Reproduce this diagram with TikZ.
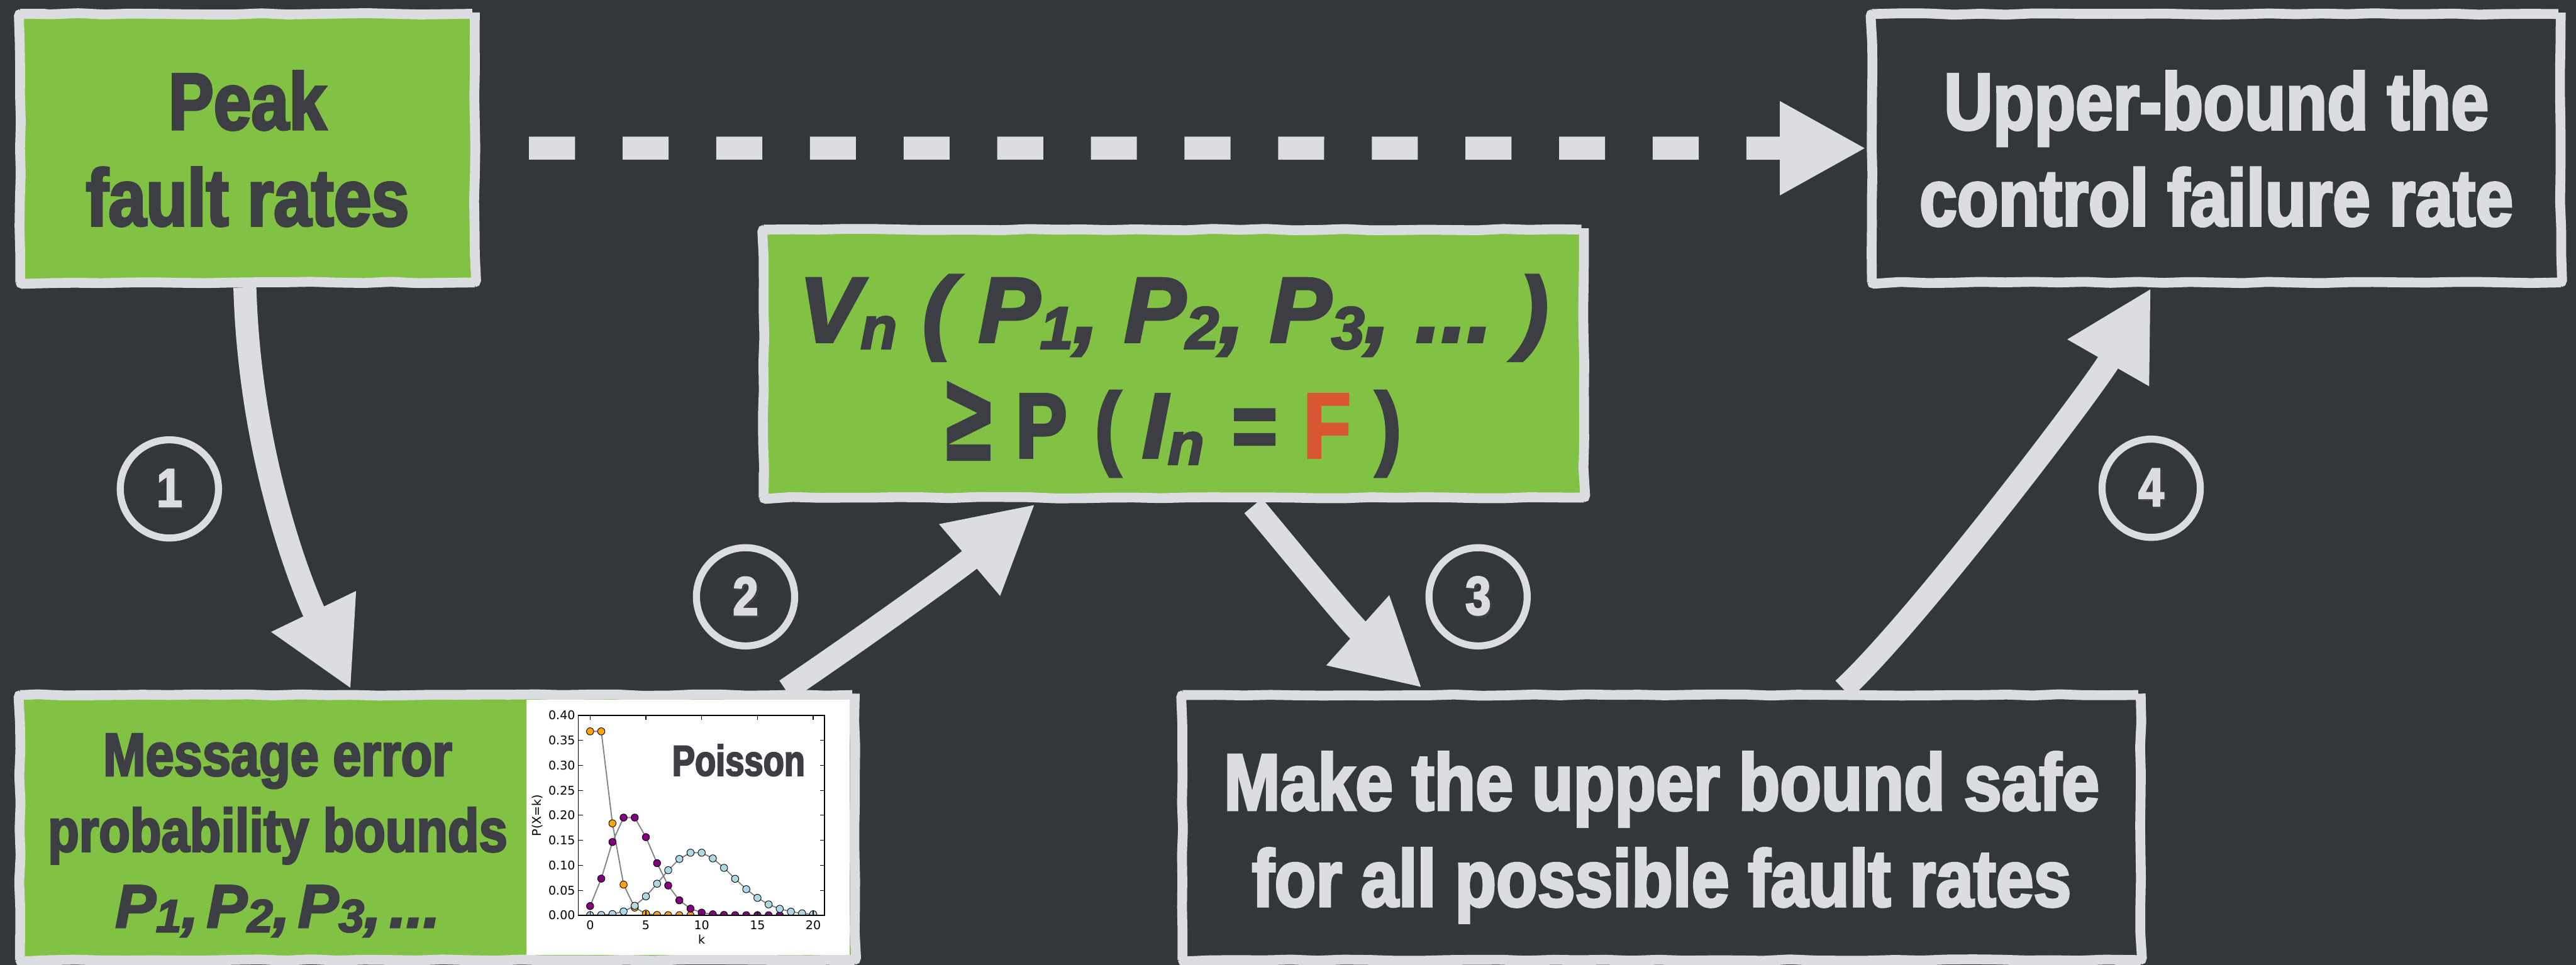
\documentclass[tikz,border=0pt]{standalone}
\usepackage{fontspec}
\usepackage{graphicx}
\usetikzlibrary{arrows.meta,calc,decorations.pathmorphing}
\setmainfont{Liberation Sans}
\newfontfamily\cond{Liberation Sans}[FakeStretch=0.84,FakeBold=3]
\newfontfamily\wide{Liberation Sans}[FakeBold=3]
\newfontfamily\condpoi{Liberation Sans}[FakeStretch=0.79,FakeBold=3]
\newfontfamily\plotfont{DejaVu Sans}

\definecolor{bgdark}{RGB}{51,55,59}
\definecolor{chalk}{RGB}{220,221,224}
\definecolor{leaf}{RGB}{129,194,69}
\definecolor{ink}{RGB}{60,62,67}
\definecolor{alert}{RGB}{217,86,53}
\definecolor{mplorange}{RGB}{255,165,0}
\definecolor{mplpurple}{RGB}{128,0,128}
\definecolor{mplblue}{RGB}{173,216,230}

% lowered, shrunken index (subscript-like)
\newcommand\lowidx[2][0.65]{\raisebox{-0.075em}{\scalebox{#1}{#2}}}
% digit with a small dark drop shadow
\newcommand\shnum[1]{\makebox[0pt][l]{\hspace{1.1pt}\raisebox{-1.1pt}{\textcolor{black!75}{#1}}}#1}

\begin{document}
\pgfmathsetseed{12}
\begin{tikzpicture}[x=1pt,y=-1pt,
  wobble/.style={decorate,decoration={random steps,segment length=16pt,amplitude=0.45pt},rounded corners=1.5pt},
  panel/.style={rectangle, draw=chalk, line width=6pt, outer sep=0pt, inner sep=0pt, wobble},
  greenpanel/.style={panel, fill=leaf, text=ink},
  darkpanel/.style={panel, fill=bgdark, text=chalk},
  bigtext/.style={font=\cond\bfseries\fontsize{49}{58.6}\selectfont, align=center},
  stepnum/.style={circle, draw=chalk, line width=4.3pt, minimum size=59.8pt, inner sep=0pt, outer sep=0pt,
    text=chalk, font=\cond\bfseries\fontsize{33}{33}\selectfont},
  flow/.style={draw=chalk, line width=14pt, -{Triangle[length=52.6pt,width=53.3pt]}},
  plotline/.style={draw={rgb,255:red,128;green,128;blue,128}, line width=0.7pt},
  tick/.style={draw=black, line width=0.45pt},
  ticklabel/.style={inner sep=0pt, font=\plotfont\fontsize{7.3}{8}\selectfont}
]
% canvas
\fill[bgdark] (0,0) rectangle (1568,587.5);
\useasboundingbox (0,0) rectangle (1568,587.5);

% panels
\node[greenpanel, bigtext, minimum width=276.7pt, minimum height=163.6pt] (peak) at (150.65,90.2)
  {\rule{0pt}{36.2pt}Peak\\fault rates};
\node[darkpanel, bigtext, minimum width=419.3pt, minimum height=163.5pt] (upper) at (1349.05,90.25)
  {\rule{0pt}{36.2pt}Upper-bound the\\control failure rate};
\node[greenpanel, align=center, font=\cond\bfseries\fontsize{56}{70.5}\selectfont,
      minimum width=499.3pt, minimum height=163.2pt] (vbound) at (714.45,221.4)
  {\rule{0pt}{55.5pt}{\wide\bfseries\itshape V\lowidx{n}\hspace{15.5pt}(\hspace{15.5pt}P\lowidx{1},\hspace{15.5pt}P\lowidx{2},\hspace{15.5pt}P\lowidx{3},\hspace{15.5pt}...\hspace{15.5pt})}\\
   \raisebox{-1pt}{\scalebox{1.05}[1.3]{≥}}\hspace{15pt}P\hspace{17pt}(\hspace{13pt}{\wide\bfseries\itshape I\lowidx{n}}\hspace{17pt}=\hspace{16pt}\textcolor{alert}{F}\hspace{15pt})};
\node[greenpanel, minimum width=508.2pt, minimum height=161.4pt] (msg) at (266.2,503.9) {};
\node[darkpanel, bigtext, minimum width=583.2pt, minimum height=161.4pt] (safe) at (1011.4,503.9)
  {\rule{0pt}{47.5pt}Make the upper bound safe\\for all possible fault rates};

% text of the message-error panel
\node[font=\cond\bfseries\fontsize{37}{46.2}\selectfont, text=ink, align=center, inner sep=0pt] (msgtext) at (169,508.5)
  {\rule{0pt}{27pt}Message error\\probability bounds\\{\wide\bfseries\itshape P\lowidx[0.76]{1},\hspace{5pt}P\lowidx[0.76]{2},\hspace{5pt}P\lowidx[0.76]{3},\hspace{5pt}...}\rule[-7pt]{0pt}{7pt}};

% white plot area inside the message-error panel
\fill[white] ($(msg.north west)+(308.3,3)$) rectangle ($(msg.south east)+(-3,-3)$);

% Poisson pmf plot
\begin{scope}[shift={(359.2pt,-557.3pt)}, x=6.79pt, y=304.3pt]
  \begin{scope}
    \clip (-1.046,0) rectangle (21,0.4);
    \draw[plotline] plot[mark=*, mark size=2.2pt, mark options={fill=mplorange, draw=black, line width=0.35pt}]
      coordinates {(0,0.3679) (1,0.3679) (2,0.1839) (3,0.0613) (4,0.0153) (5,0.0031) (6,0.0005) (7,0.0001) (8,0) (9,0)};
    \draw[plotline] plot[mark=*, mark size=2.2pt, mark options={fill=mplpurple, draw=black, line width=0.35pt}]
      coordinates {(0,0.0183) (1,0.0733) (2,0.1465) (3,0.1954) (4,0.1954) (5,0.1563) (6,0.1042) (7,0.0595)
                   (8,0.0298) (9,0.0132) (10,0.0053) (11,0.0019) (12,0.0006) (13,0.0002) (14,0.0001) (15,0) (16,0) (17,0)};
    \draw[plotline] plot[mark=*, mark size=2.2pt, mark options={fill=mplblue, draw=black, line width=0.35pt}]
      coordinates {(0,0.00005) (1,0.0005) (2,0.0023) (3,0.0076) (4,0.0189) (5,0.0378) (6,0.0631) (7,0.0901)
                   (8,0.1126) (9,0.1251) (10,0.1251) (11,0.1137) (12,0.0948) (13,0.0729) (14,0.0521) (15,0.0347)
                   (16,0.0217) (17,0.0128) (18,0.0071) (19,0.0037) (20,0.0019)};
  \end{scope}
  % frame and ticks
  \draw[black, line width=0.55pt] (-1.046,0) rectangle (21,0.4);
  \foreach \v/\lbl [count=\i] in {0/0.00,0.05/0.05,0.1/0.10,0.15/0.15,0.2/0.20,0.25/0.25,0.3/0.30,0.35/0.35,0.4/0.40}{
    \draw[tick] (-1.046,\v) -- ++(2.8pt,0pt);
    \draw[tick] (21,\v) -- ++(-2.8pt,0pt);
    \node[ticklabel, anchor=east] (ylab\i) at ($(-1.046,\v)+(-1.8pt,0pt)$) {\lbl};
  }
  \foreach \k in {0,5,10,15,20}{
    \draw[tick] (\k,0) -- ++(0pt,2.8pt);
    \draw[tick] (\k,0.4) -- ++(0pt,-2.8pt);
    \node[ticklabel, anchor=base] (xlab\k) at ($(\k,0)+(0pt,-8.8pt)$) {\k};
  }
  \node[ticklabel, anchor=base] (klabel) at ($(10,0)+(0pt,-17.6pt)$) {k};
  \node[ticklabel, rotate=90] (plabel) at (-4.713,0.2) {P(X=k)};
  \node[anchor=base west, inner sep=0pt, text=ink, font=\condpoi\bfseries\fontsize{26.3}{26.3}\selectfont]
    (poisson) at (7.33,0.2793) {Poisson};
\end{scope}

% step numbers
\node[stepnum] (n1) at (103.1,297.7) {\shnum{1}};
\node[stepnum] (n2) at (453.8,363.4) {\shnum{2}};
\node[stepnum] (n3) at (899.7,363.4) {\shnum{3}};
\node[stepnum] (n4) at (1309.4,297.3) {\shnum{4}};

% connectors
\draw[flow, dash pattern=on 28pt off 29pt] ($(peak.east)+(33,0)$) -- ($(upper.west)+(-3.4,0)$);
\draw[flow] ($(peak.south)+(-1.6,3)$) .. controls +(3,105) and +(-28.7,-59.6) .. ($(msg.north west)+(201.6,-3.5)$);
\draw[flow] ($(msg.north west)+(466.2,-3)$) .. controls +(41.5,-28) and +(-45.7,38.9) .. ($(vbound.south west)+(165.4,3.9)$);
\draw[flow] ($(vbound.south west)+(298,5)$) .. controls +(25.7,30.6) and +(-44.7,-40.1) .. ($(safe.north west)+(145.8,-4.3)$);
\draw[flow] ($(safe.north west)+(402.2,-3.6)$) .. controls +(43.9,-40.5) and +(-34.8,60.7) .. ($(upper.south west)+(170,3.3)$);
\end{tikzpicture}
\end{document}
